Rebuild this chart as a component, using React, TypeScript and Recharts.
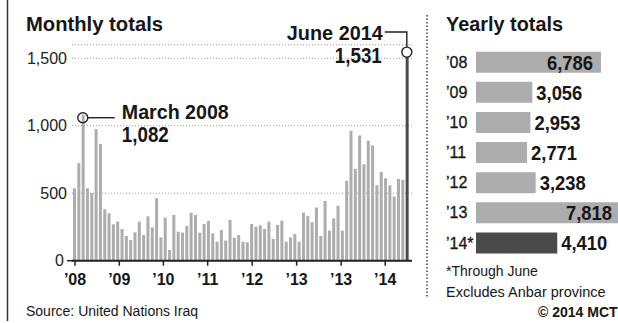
import { BarChart, Bar, XAxis, YAxis, CartesianGrid, ReferenceDot, Cell, LabelList } from "recharts"

// Monthly civilian deaths, Jan 2008 - Jun 2014
const MONTHLY = [
  537, 723, 1082, 537, 500, 975, 866, 381, 351, 270, 290, 235,
  183, 153, 210, 290, 190, 329, 247, 463, 173, 319, 79, 339,
  215, 208, 257, 356, 339, 208, 272, 295, 203, 141, 228, 149,
  302, 171, 190, 141, 136, 272, 252, 262, 235, 290, 161, 265,
  297, 141, 173, 198, 141, 356, 332, 285, 394, 183, 443, 223,
  314, 408, 223, 592, 963, 681, 928, 715, 889, 854, 559, 658,
  611, 559, 475, 606, 599, 1531,
]

// x-axis ticks as printed (month index, label) - the original repeats '13
const X_TICKS = [0.2, 10.45, 20.65, 30.9, 41.2, 51.5, 61.8, 72]
const X_LABELS = ["\u201908", "\u201909", "\u201910", "\u201911", "\u201912", "\u201913", "\u201913", "\u201914"]
const Y_TICKS = [0, 500, 1000, 1500]

const YEARS = ["\u201908", "\u201909", "\u201910", "\u201911", "\u201912", "\u201913", "\u201914*"]
const YEAR_TOTALS = [6786, 3056, 2953, 2771, 3238, 7818, 4410]

const monthData = MONTHLY.map((v, i) => ({ i, v }))
const yearData = YEARS.map((label, k) => ({ label, total: YEAR_TOTALS[k] }))

const FONT = "'Liberation Sans', Arial, Helvetica, sans-serif"
const INK = "#161616"
const BAR_GRAY = "#adadad"
const DARK = "#4a4a4a"

const MarchNote = (p: any) => {
  const { cx, cy } = p
  const y = cy + 3
  return (
    <g>
      <circle cx={cx} cy={y} r={5} fill="none" stroke="#222" strokeWidth={1.4} />
      <line x1={cx + 5} y1={y} x2={cx + 32} y2={y} stroke="#222" strokeWidth={1.4} />
      <text x={cx + 39} y={y + 1} fontSize={20} fontWeight={700} fill={INK} textLength={107} lengthAdjust="spacingAndGlyphs">
        March 2008
      </text>
      <text x={cx + 39} y={y + 24} fontSize={22} fontWeight={700} fill={INK} textLength={47} lengthAdjust="spacingAndGlyphs">
        1,082
      </text>
    </g>
  )
}

const JuneNote = (p: any) => {
  const { cx, cy } = p
  const c = cy - 2
  return (
    <g>
      <polyline points={`${cx},${c - 5} ${cx},32 ${cx - 22},32`} fill="none" stroke="#222" strokeWidth={1.4} />
      <circle cx={cx} cy={c} r={5} fill="#fff" stroke="#222" strokeWidth={1.4} />
      <text x={cx - 24} y={39.5} textAnchor="end" fontSize={20} fontWeight={700} fill={INK} textLength={96} lengthAdjust="spacingAndGlyphs">
        June 2014
      </text>
      <text x={cx - 25} y={63} textAnchor="end" fontSize={22} fontWeight={700} fill={INK} textLength={47} lengthAdjust="spacingAndGlyphs">
        1,531
      </text>
    </g>
  )
}

// y tick: the zero label carries a short tick joining the baseline
const MonthYTick = (p: any) => {
  const { x, y, payload } = p
  const zero = payload.value === 0
  return (
    <g>
      {zero && <line x1={x} y1={y} x2={x + 6} y2={y} stroke="#222" strokeWidth={1.5} />}
      <text x={zero ? x - 3 : x} y={y} dy={5.5} textAnchor="end" fontSize={16} fill="#222" fontFamily={FONT}>
        {payload.value.toLocaleString("en-US")}
      </text>
    </g>
  )
}

const YearTick = (p: any) => {
  const { x, y, payload } = p
  return (
    <text x={x - 30} y={y} dy={6} fontSize={16} fill={INK} stroke={INK} strokeWidth={0.3} fontFamily={FONT}>
      {payload.value}
    </text>
  )
}

const ValueLabel = (p: any) => {
  const vb = p.viewBox || {}
  const x = p.x ?? vb.x
  const y = p.y ?? vb.y
  const width = p.width ?? vb.width
  const height = p.height ?? vb.height
  const inside = p.value > 6000
  return (
    <text
      x={inside ? x + width - 8 : x + width + 4}
      y={y + height / 2 + 7.5}
      textAnchor={inside ? "end" : "start"}
      fontSize={21}
      fontWeight={700}
      fill={INK}
      fontFamily={FONT}
      textLength={46}
      lengthAdjust="spacingAndGlyphs"
    >
      {p.value.toLocaleString("en-US")}
    </text>
  )
}

export default function App() {
  return (
    <div
      style={{
        position: "absolute",
        left: 0,
        top: 0,
        width: 618,
        height: 323,
        overflow: "hidden",
        background: "#fff",
        fontFamily: FONT,
      }}
    >
      {/* monthly totals */}
      <div style={{ position: "absolute", left: 0, top: 0 }}>
        <BarChart width={430} height={300} data={monthData} margin={{ top: 44.8, right: 18, bottom: 9.3, left: 0 }}>
          <CartesianGrid vertical={false} stroke="#999" strokeDasharray="1 2" />
          <XAxis
            type="number"
            dataKey="i"
            domain={[-0.5, 78.2]}
            ticks={X_TICKS}
            interval={0}
            tickFormatter={(_v: number, idx: number) => X_LABELS[idx]}
            axisLine={{ stroke: "#222", strokeWidth: 2 }}
            tickLine={{ stroke: "#222", strokeWidth: 1.5 }}
            tickSize={5}
            tickMargin={8}
            height={30}
            tick={{ fontSize: 16, fontWeight: 700, fill: INK, fontFamily: FONT }}
          />
          <YAxis
            type="number"
            domain={[0, 1600]}
            ticks={Y_TICKS}
            interval={0}
            axisLine={false}
            tickLine={false}
            tickSize={3}
            tickMargin={2}
            width={72}
            tick={<MonthYTick />}
          />
          <Bar dataKey="v" barSize={3} fill={BAR_GRAY} isAnimationActive={false}>
            {monthData.map((d) => (
              <Cell key={d.i} fill={d.i === MONTHLY.length - 1 ? DARK : BAR_GRAY} />
            ))}
          </Bar>
          <ReferenceDot x={2} y={MONTHLY[2]} r={5} ifOverflow="visible" shape={MarchNote} />
          <ReferenceDot x={MONTHLY.length - 1} y={MONTHLY[MONTHLY.length - 1]} r={5} ifOverflow="visible" shape={JuneNote} />
        </BarChart>
      </div>

      {/* yearly totals */}
      <div style={{ position: "absolute", left: 0, top: 0 }}>
        <BarChart
          layout="vertical"
          width={640}
          height={300}
          data={yearData}
          barSize={21}
          margin={{ top: 46.7, right: 16.6, bottom: 42.4, left: 440 }}
        >
          <XAxis type="number" domain={[0, 8000]} hide />
          <YAxis type="category" dataKey="label" width={36} axisLine={false} tickLine={false} tickSize={0} tickMargin={0} tick={<YearTick />} />
          <Bar dataKey="total" isAnimationActive={false}>
            {yearData.map((d, k) => (
              <Cell key={d.label} fill={k === yearData.length - 1 ? DARK : BAR_GRAY} />
            ))}
            <LabelList dataKey="total" content={<ValueLabel />} />
          </Bar>
        </BarChart>
      </div>

      {/* titles, notes and rules */}
      <svg width={618} height={323} style={{ position: "absolute", left: 0, top: 0, pointerEvents: "none" }} fontFamily={FONT}>
        <line x1={7.5} y1={0} x2={7.5} y2={321} stroke="#333" strokeWidth={1.5} />
        <line x1={427} y1={15} x2={427} y2={297} stroke="#444" strokeWidth={1.5} strokeDasharray="1.5 2" />
        <text x={26} y={31} fontSize={21} fontWeight={700} fill={INK} textLength={137} lengthAdjust="spacingAndGlyphs">
          Monthly totals
        </text>
        <text x={446} y={31} fontSize={21} fontWeight={700} fill={INK} textLength={117} lengthAdjust="spacingAndGlyphs">
          Yearly totals
        </text>
        <text x={26} y={315.5} fontSize={14} fill={INK}>
          Source: United Nations Iraq
        </text>
        <text x={446} y={276} fontSize={14} fill={INK}>
          *Through June
        </text>
        <text x={446} y={297} fontSize={14.5} fill={INK}>
          Excludes Anbar province
        </text>
        <text x={538} y={317} fontSize={14} fontWeight={700} fill={INK}>
          © 2014 MCT
        </text>
      </svg>
    </div>
  )
}
